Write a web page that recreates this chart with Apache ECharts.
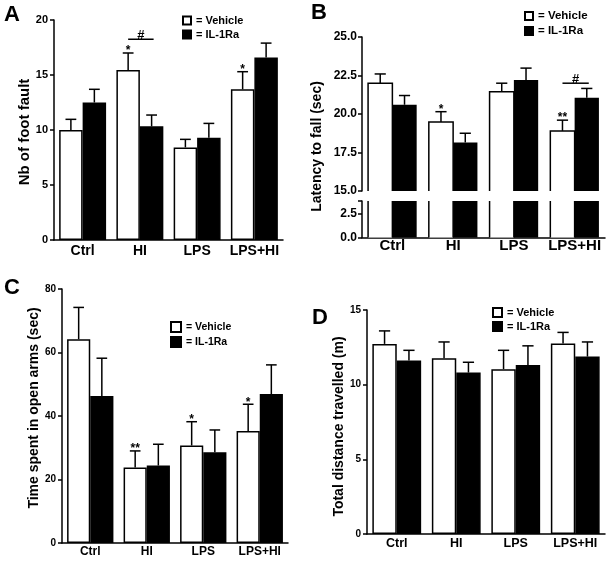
<!DOCTYPE html>
<html><head><meta charset="utf-8">
<script src="https://cdn.jsdelivr.net/npm/echarts@6/dist/echarts.min.js"></script>
<style>html,body{margin:0;padding:0;background:#fff}#c{width:616px;height:562px}</style>
</head><body><div id="c"></div>
<script>
const categories = ['Ctrl', 'HI', 'LPS', 'LPS+HI'];
const groups = ['Vehicle', 'IL-1Ra'];

// Panel A: Nb of foot fault
const footFaultVehicle = [10.0, 15.45, 8.42, 13.7];
const footFaultVehicleSem = [0.97, 1.55, 0.73, 1.6];
const footFaultIL1Ra = [12.5, 10.33, 9.3, 16.6];
const footFaultIL1RaSem = [1.2, 1.03, 1.3, 1.3];
const footFaultVehicleSig = ['', '*', '', '*'];
const footFaultIL1RaSig = ['', '', '', ''];
const footFaultHash = [[1, 18.25]];
const footFaultTicks = [0, 5, 10, 15, 20];

// Panel B: Latency to fall (sec)
const latencyVehicle = [22.0, 19.48, 21.45, 18.9];
const latencyVehicleSem = [0.6, 0.67, 0.55, 0.7];
const latencyIL1Ra = [20.6, 18.15, 22.2, 21.06];
const latencyIL1RaSem = [0.6, 0.6, 0.78, 0.6];
const latencyVehicleSig = ['', '*', '', '**'];
const latencyIL1RaSig = ['', '', '', ''];
const latencyHash = [[3, 22.0]];
const latencyTicksUpper = [15.0, 17.5, 20.0, 22.5, 25.0];
const latencyTicksLower = [0.0, 2.5];
const latencyLowerMax = 3.8;

// Panel C: Time spent in open arms (sec)
const openArmsVehicle = [64.2, 23.8, 30.7, 35.3];
const openArmsVehicleSem = [10.0, 5.2, 7.5, 8.4];
const openArmsIL1Ra = [46.3, 24.4, 28.6, 46.9];
const openArmsIL1RaSem = [11.9, 6.7, 7.0, 9.2];
const openArmsVehicleSig = ['', '**', '*', '*'];
const openArmsIL1RaSig = ['', '', '', ''];
const openArmsTicks = [0, 20, 40, 60, 80];

// Panel D: Total distance travelled (m)
const distanceVehicle = [12.73, 11.77, 11.04, 12.75];
const distanceVehicleSem = [0.87, 1.09, 1.26, 0.75];
const distanceIL1Ra = [11.61, 10.81, 11.32, 11.88];
const distanceIL1RaSem = [0.69, 0.69, 1.28, 0.98];
const distanceVehicleSig = ['', '', '', ''];
const distanceIL1RaSig = ['', '', '', ''];
const distanceTicks = [0, 5, 10, 15];

const FF = '"Liberation Sans", Arial, Helvetica, sans-serif';
const vehicleStyle = {color: '#fff', borderColor: '#000', borderWidth: 1.5};
const ilStyle = {color: '#000', borderColor: '#000', borderWidth: 1.5};
const vehicleFillOnly = {color: '#fff', borderWidth: 0};
const ilFillOnly = {color: '#000', borderWidth: 0};

function bars(gi, vData, iData, gap, vStyle, iStyle) {
  return [
    {name: groups[0], type: 'bar', xAxisIndex: gi, yAxisIndex: gi, data: vData, barGap: '0%', barCategoryGap: gap,
     itemStyle: vStyle || vehicleStyle, clip: true, silent: true, animation: false, z: 2},
    {name: groups[1], type: 'bar', xAxisIndex: gi, yAxisIndex: gi, data: iData, barGap: '0%', barCategoryGap: gap,
     itemStyle: iStyle || ilStyle, clip: true, silent: true, animation: false, z: 2}
  ];
}

// open outline of a vehicle bar cut by an axis break (sides drawn, cut edges left open)
function brokenOutline(gi, vData, gapFrac, minV, maxV) {
  return {type: 'custom', xAxisIndex: gi, yAxisIndex: gi, z: 3, silent: true, animation: false,
    encode: {x: 0, y: 1}, data: vData.map((v, i) => [i, v]),
    renderItem: function (params, api) {
      const idx = api.value(0), mean = api.value(1);
      const band = api.size([1, 0])[0];
      const barW = band * (1 - gapFrac) / 2;
      const c = api.coord([idx, minV]);
      const yB = c[1];
      const yT = api.coord([idx, Math.min(mean, maxV)])[1];
      const xL = c[0] - barW, xR = c[0];
      const st = {stroke: '#000', lineWidth: 1.5, fill: null};
      const ch = [];
      if (mean <= maxV) {
        ch.push({type: 'polyline', shape: {points: [[xL, yB], [xL, yT], [xR, yT], [xR, yB]]}, style: st});
      } else {
        ch.push({type: 'line', shape: {x1: xL, y1: yB, x2: xL, y2: yT}, style: st});
        ch.push({type: 'line', shape: {x1: xR, y1: yB, x2: xR, y2: yT}, style: st});
      }
      return {type: 'group', children: ch};
    }};
}

function errRender(side, gapFrac, sigs, starSize) {
  return function (params, api) {
    const idx = api.value(0), mean = api.value(1), err = api.value(2);
    const band = api.size([1, 0])[0];
    const barW = band * (1 - gapFrac) / 2;
    const base = api.coord([idx, mean]);
    const top = api.coord([idx, mean + err]);
    const x = base[0] + side * barW / 2;
    const half = barW * 0.23;
    const children = [
      {type: 'line', shape: {x1: x, y1: base[1], x2: x, y2: top[1]}, style: {stroke: '#000', lineWidth: 1.5}},
      {type: 'line', shape: {x1: x - half, y1: top[1], x2: x + half, y2: top[1]}, style: {stroke: '#000', lineWidth: 1.5}}
    ];
    const s = sigs[params.dataIndex];
    if (s) {
      children.push({type: 'text', x: x, y: top[1] - 2,
        style: {text: s, textAlign: 'center', textVerticalAlign: 'middle', align: 'center', verticalAlign: 'middle',
          font: 'bold ' + starSize + 'px ' + FF, fill: '#000'}});
    }
    return {type: 'group', children: children};
  };
}

function errs(gi, vData, vSem, iData, iSem, vSig, iSig, gapFrac, starSize) {
  return [
    {type: 'custom', xAxisIndex: gi, yAxisIndex: gi, z: 3, silent: true, animation: false,
     renderItem: errRender(-1, gapFrac, vSig, starSize), encode: {x: 0, y: 1},
     data: vData.map((v, i) => [i, v, vSem[i]])},
    {type: 'custom', xAxisIndex: gi, yAxisIndex: gi, z: 3, silent: true, animation: false,
     renderItem: errRender(1, gapFrac, iSig, starSize), encode: {x: 0, y: 1},
     data: iData.map((v, i) => [i, v, iSem[i]])}
  ];
}

function hash(gi, data, gapFrac) {
  return {type: 'custom', xAxisIndex: gi, yAxisIndex: gi, z: 3, silent: true, animation: false,
    encode: {x: 0, y: 1}, data: data,
    renderItem: function (params, api) {
      const idx = api.value(0), val = api.value(1);
      const band = api.size([1, 0])[0];
      const barW = band * (1 - gapFrac) / 2;
      const c = api.coord([idx, val]);
      const x1 = c[0] - barW / 2, x2 = c[0] + barW / 2 + 2;
      return {type: 'group', children: [
        {type: 'line', shape: {x1: x1, y1: c[1], x2: x2, y2: c[1]}, style: {stroke: '#000', lineWidth: 1.5}},
        {type: 'text', x: (x1 + x2) / 2, y: c[1] + 3,
         style: {text: '#', textAlign: 'center', textVerticalAlign: 'bottom', align: 'center', verticalAlign: 'bottom',
           font: 'bold 13px ' + FF, fill: '#000'}}
      ]};
    }};
}

function xAx(gi, size, margin, show) {
  return {type: 'category', gridIndex: gi, data: categories, show: show !== false,
    axisLine: {lineStyle: {color: '#000', width: 1.5}}, axisTick: {show: false},
    axisLabel: {interval: 0, color: '#000', fontWeight: 'bold', fontSize: size, fontFamily: FF, margin: margin}};
}
function yAx(gi, ticks, size, margin, fmt, maxOverride) {
  return {type: 'value', gridIndex: gi, min: ticks[0], max: maxOverride !== undefined ? maxOverride : ticks[ticks.length - 1],
    interval: ticks[1] - ticks[0], splitLine: {show: false},
    axisLine: {show: true, lineStyle: {color: '#000', width: 1.5}},
    axisTick: {show: true, length: 4, lineStyle: {color: '#000', width: 1.5}},
    axisLabel: {color: '#000', fontWeight: 'bold', fontSize: size, fontFamily: FF, margin: margin,
      formatter: fmt || (v => String(v))}};
}
function leg(left, top, size, box, gap) {
  return {left: left, top: top, orient: 'vertical', data: groups, icon: 'rect', itemWidth: box, itemHeight: box,
    itemGap: gap, selectedMode: false, padding: 0, formatter: n => '= ' + n,
    textStyle: {color: '#000', fontWeight: 'bold', fontSize: size, fontFamily: FF}};
}
function label(t, x, y) {
  return {type: 'text', left: x, top: y, style: {text: t, font: 'bold 22px ' + FF, fill: '#000'}};
}
function ytitle(t, x, y, size) {
  return {type: 'text', x: x, y: y, rotation: Math.PI / 2,
    style: {text: t, x: 0, y: 0, textAlign: 'center', textVerticalAlign: 'middle', align: 'center', verticalAlign: 'middle',
      font: 'bold ' + size + 'px ' + FF, fill: '#000'}};
}

const chart = echarts.init(document.getElementById('c'), null, {renderer: 'canvas'});
const option = {
  animation: false,
  backgroundColor: '#fff',
  grid: [
    {left: 54, top: 20, width: 229, height: 220},
    {left: 362, top: 37, width: 243, height: 154},
    {left: 362, top: 201, width: 243, height: 36.5},
    {left: 62, top: 289, width: 226, height: 254},
    {left: 367, top: 310, width: 238, height: 224}
  ],
  xAxis: [
    xAx(0, 14, 4),
    xAx(1, 15, 1, false),
    xAx(2, 15, 1),
    xAx(3, 12, 3),
    xAx(4, 12.5, 3)
  ],
  yAxis: [
    yAx(0, footFaultTicks, 11, 6),
    yAx(1, latencyTicksUpper, 12, 5, v => v.toFixed(1)),
    yAx(2, latencyTicksLower, 12, 5, v => (Math.abs(v / 2.5 - Math.round(v / 2.5)) < 1e-6 ? v.toFixed(1) : ''), latencyLowerMax),
    yAx(3, openArmsTicks, 10, 6),
    yAx(4, distanceTicks, 10, 6)
  ],
  legend: [
    leg(182, 15, 11, 8, 3),
    leg(524, 10, 11.5, 8, 3),
    leg(170, 321, 10.5, 10, 3),
    leg(492, 307, 11, 9, 3)
  ],
  graphic: [
    label('A', 4, 4), label('B', 311, 2), label('C', 4, 277), label('D', 312, 307),
    ytitle('Nb of foot fault', 25, 132, 15),
    ytitle('Latency to fall (sec)', 317, 146.5, 14),
    ytitle('Time spent in open arms (sec)', 34, 408, 14),
    ytitle('Total distance travelled (m)', 339, 426.5, 14)
  ],
  series: [].concat(
    bars(0, footFaultVehicle, footFaultIL1Ra, '18%'),
    errs(0, footFaultVehicle, footFaultVehicleSem, footFaultIL1Ra, footFaultIL1RaSem, footFaultVehicleSig, footFaultIL1RaSig, 0.18, 12),
    [hash(0, footFaultHash, 0.18)],
    bars(1, latencyVehicle, latencyIL1Ra, '20%', vehicleFillOnly, ilFillOnly),
    [brokenOutline(1, latencyVehicle, 0.20, latencyTicksUpper[0], latencyTicksUpper[latencyTicksUpper.length - 1])],
    errs(1, latencyVehicle, latencyVehicleSem, latencyIL1Ra, latencyIL1RaSem, latencyVehicleSig, latencyIL1RaSig, 0.20, 12),
    [hash(1, latencyHash, 0.20)],
    bars(2, latencyVehicle, latencyIL1Ra, '20%', vehicleFillOnly, ilFillOnly),
    [brokenOutline(2, latencyVehicle, 0.20, 0, latencyLowerMax)],
    bars(3, openArmsVehicle, openArmsIL1Ra, '18%'),
    errs(3, openArmsVehicle, openArmsVehicleSem, openArmsIL1Ra, openArmsIL1RaSem, openArmsVehicleSig, openArmsIL1RaSig, 0.18, 12),
    bars(4, distanceVehicle, distanceIL1Ra, '18%'),
    errs(4, distanceVehicle, distanceVehicleSem, distanceIL1Ra, distanceIL1RaSem, distanceVehicleSig, distanceIL1RaSig, 0.18, 12)
  )
};
chart.setOption(option);
</script></body></html>
